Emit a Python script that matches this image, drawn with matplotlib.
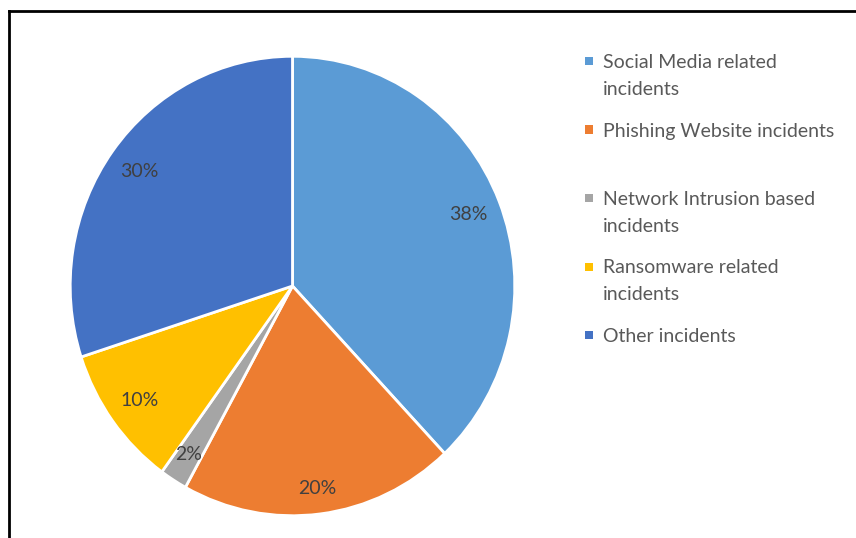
import numpy as np
import matplotlib.pyplot as plt
from matplotlib.patches import Rectangle
from matplotlib.lines import Line2D

# data
categories = [
    "Social Media related\nincidents",
    "Phishing Website incidents",
    "Network Intrusion based\nincidents",
    "Ransomware related\nincidents",
    "Other incidents",
]
shares = [38, 20, 2, 10, 30]
colors = ["#5B9BD5", "#ED7D31", "#A5A5A5", "#FFC000", "#4472C4"]
label_dist = [0.85, 0.89, 0.87, 0.85, 0.85]

plt.rcParams["font.family"] = ["Lato", "DejaVu Sans"]

W, H = 856, 538
fig = plt.figure(figsize=(W / 100, H / 100), dpi=100)

# pie area in pixels: x 70..515, y 56..516 (from top)
ax = fig.add_axes([68 / W, (H - 518) / H, 449 / W, 464 / H])

wedges, texts, autotexts = ax.pie(
    shares,
    colors=colors,
    startangle=90,
    counterclock=False,
    autopct="%d%%",
    pctdistance=0.85,
    wedgeprops=dict(edgecolor="white", linewidth=2),
    textprops=dict(color="#404040", fontsize=14),
)
ax.set_aspect("auto")
ax.set_xlim(-1.01, 1.01)
ax.set_ylim(-1.01, 1.01)

# Excel "best fit" puts a couple of labels a bit further out
for w, t, d in zip(wedges, autotexts, label_dist):
    mid = np.deg2rad((w.theta1 + w.theta2) / 2)
    t.set_position((d * np.cos(mid), d * np.sin(mid)))

# legend, drawn by hand to keep Excel-like slot spacing
x_box = 589 / W
x_txt = 603 / W
y_top = 61
step = 68.5
line_px = 27
for i, (lab, col) in enumerate(zip(categories, colors)):
    y = y_top + i * step
    fig.add_artist(Rectangle((x_box - 4 / W, 1 - (y + 4) / H), 8 / W, 8 / H,
                             transform=fig.transFigure, facecolor=col,
                             edgecolor="none"))
    # baseline alignment refers to the last line of the text
    y_base = y + 7 + lab.count("\n") * line_px
    fig.text(x_txt, 1 - y_base / H, lab, color="#595959", fontsize=14,
             ha="left", va="baseline", linespacing=1.73)

# frame edges (left and top visible in the crop)
fig.add_artist(Line2D([9 / W, 9 / W], [0, 1 - 11 / H], color="black", lw=2,
                      transform=fig.transFigure))
fig.add_artist(Line2D([9 / W, 1], [1 - 11 / H, 1 - 11 / H], color="black", lw=2,
                      transform=fig.transFigure))

fig.savefig("out.png", dpi=100)
